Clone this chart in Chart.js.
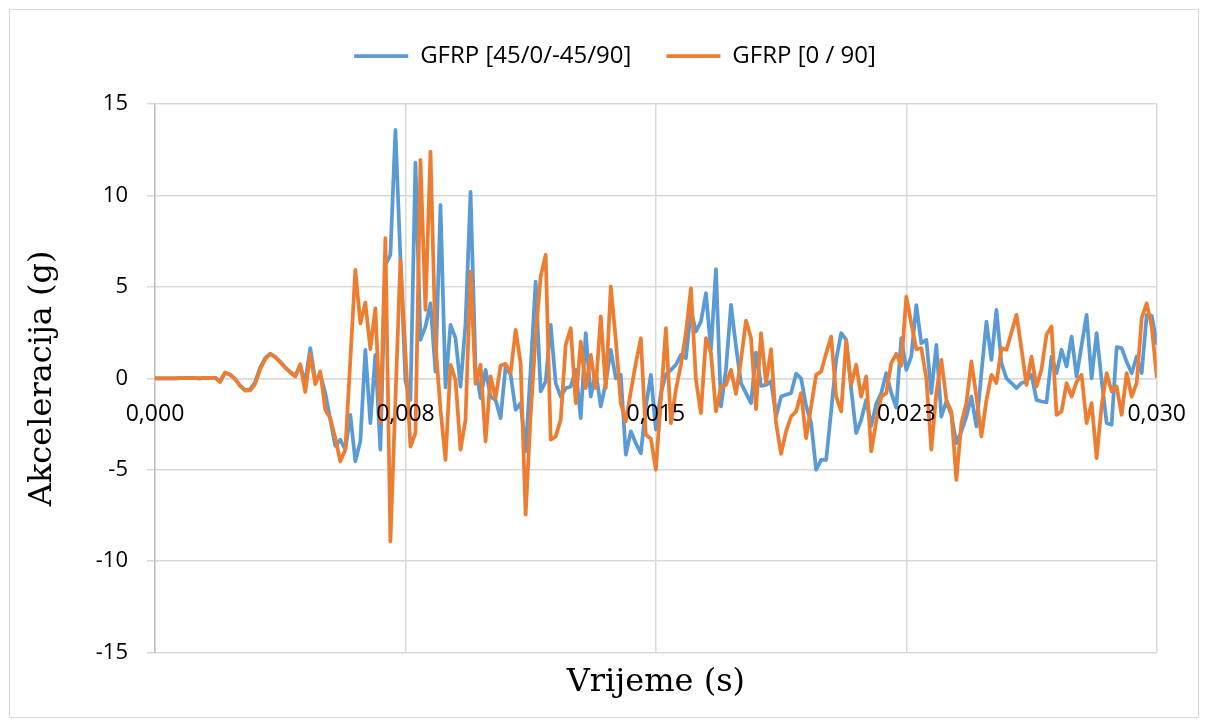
<!DOCTYPE html>
<html>
<head>
<meta charset="utf-8">
<script src="https://cdn.jsdelivr.net/npm/chart.js@4.4.1/dist/chart.umd.min.js"></script>
<style>
  html, body { margin: 0; padding: 0; background: #ffffff; }
  #wrap { width: 1208px; height: 727px; position: relative; }
</style>
</head>
<body>
<div id="wrap"><canvas id="accChart" width="1208" height="727"></canvas></div>
<script>
// Sampling interval of the accelerometer records (s)
const sampleStep = 0.00015;

const seriesNames = ['GFRP [45/0/-45/90]', 'GFRP [0 / 90]'];

// Acceleration (g), laminate [45/0/-45/90]
const accQuasiIso = [
  0, 0, 0, 0, 0, 0.01, 0.01, 0.02, 0.01, 0,
  0.02, 0.03, 0.03, -0.15, 0.3, 0.2, -0.05, -0.4, -0.64, -0.6,
  -0.2, 0.6, 1.1, 1.35, 1.18, 0.9, 0.6, 0.35, 0.15, 0.65,
  -0.2, 1.65, -0.1, 0.2, -0.81, -2.27, -3.7, -3.36, -3.9, -2.0,
  -4.54, -3.45, 1.56, -2.45, 1.28, -3.9, 6.2, 6.75, 13.58, 6.55,
  -0.15, -1.18, 11.8, 2.1, 2.83, 4.1, 0.37, 9.48, -0.5, 2.92,
  2.2, -0.45, 3.0, 10.2, 0.6, -1.08, 0.46, -1.0, -1.18, -2.18,
  0.64, 0.19, -1.72, -1.36, -4.0, 0.5, 5.29, -0.72, -0.17, 2.92,
  -0.26, -1.0, -0.54, -0.45, 0.46, -2.18, 2.47, -1.0, 0.37, -1.54,
  -0.26, 1.56, 0.0, 0.19, -4.18, -2.9, -3.55, -4.1, -1.54, 0.19,
  -2.8, -0.8, 0.2, 0.46, 0.74, 1.28, 1.1, 3.74, 2.56, 3.1,
  4.65, 1.56, 5.97, -1.54, 0.5, 4.01, 1.74, -0.26, -0.81, -1.36,
  1.41, -0.41, -0.36, -0.17, -2.09, -1.0, -0.9, -0.81, 0.25, 0.0,
  -1.5, -2.45, -5.0, -4.46, -4.46, -1.8, 1.01, 2.47, 2.1, -0.6,
  -3.0, -2.27, -1.18, -2.6, -1.4, -0.8, 0.28, -0.8, -1.6, 2.2,
  0.46, 1.2, 4.0, 1.92, 2.1, -0.81, 1.83, -2.09, -1.27, -2.0,
  -3.55, -2.9, -2.09, -1.0, -2.63, 0.3, 3.1, 1.01, 3.74, 0.83,
  0.0, -0.26, -0.54, -0.26, -0.17, 0.19, -1.18, -1.27, -1.32, 1.19,
  0.28, 1.56, 0.65, 2.28, 0.1, 1.8, 3.47, 0.0, 2.47, -0.1,
  -2.45, -2.54, 1.7, 1.65, 0.9, 0.28, 1.19, 0.28, 3.47, 3.41,
  1.92
];

// Acceleration (g), laminate [0 / 90]
const accCrossPly = [
  0, 0, 0, 0, 0, 0.01, 0.01, 0.02, 0.01, 0,
  0.02, 0.03, 0.03, -0.2, 0.32, 0.2, -0.05, -0.42, -0.68, -0.66,
  -0.3, 0.5, 1.05, 1.33, 1.15, 0.88, 0.58, 0.32, 0.1, 0.77,
  -0.75, 1.32, -0.32, 0.37, -1.72, -2.18, -3.27, -4.54, -3.9, 1.0,
  5.93, 3.0, 4.14, 1.6, 3.83, -2.4, 7.66, -8.92, -1.2, 6.48,
  1.4, -3.73, -3.0, 11.94, 3.74, 12.4, 1.9, -1.7, -4.46, 0.74,
  -0.08, -3.9, -2.27, 5.84, -0.3, 0.74, -3.45, 0.1, -1.08, 0.7,
  0.79, 0.28, 2.65, 0.83, -7.46, -2.0, 2.3, 5.56, 6.75, -3.36,
  -3.18, -2.27, 1.83, 2.74, -1.36, 2.01, -0.54, 1.28, -0.54, 3.38,
  -0.54, 5.02, 2.1, -1.36, -2.36, -0.72, 0.83, 2.19, -3.09, -3.3,
  -5.0, -1.2, 2.74, -2.45, -0.63, 0.74, 2.47, 4.92, -0.08, -1.9,
  2.2, 1.37, -1.81, -0.45, -0.36, 0.46, -0.85, 1.0, 3.16, 2.2,
  -1.69, 2.47, -0.26, 1.59, -2.45, -4.13, -2.9, -2.09, -1.81, -0.81,
  -3.27, -1.54, 0.19, 0.37, 1.37, 2.28, -1.0, -1.81, 2.06, -0.36,
  0.74, -1.0, 0.1, -4.0, -2.36, -1.0, -0.81, 0.83, 1.34, 0.7,
  4.47, 3.0, 1.59, 1.65, 0.0, -3.9, -0.8, 1.01, -1.18, -1.81,
  -5.56, -2.45, -1.36, 0.92, -1.0, -3.18, -1.2, 0.19, -0.26, 1.65,
  1.56, 2.5, 3.47, 1.6, -0.36, 1.19, -0.45, 0.5, 2.38, 2.83,
  -2.0, -1.81, -0.26, -1.0, -0.2, 0.19, -2.45, -1.36, -4.36, -1.5,
  0.28, -0.72, -0.45, -2.0, 0.28, -1.0, -0.26, 3.29, 4.1, 2.83,
  0.1
];

// Time axis ticks and their printed labels
const xTickValues = [0, 0.0075, 0.015, 0.0225, 0.03];
const xTickLabels = ['0,000', '0,008', '0,015', '0,023', '0,030'];

// Acceleration axis range and step
const yMin = -15;
const yMax = 15;
const yStep = 5;

const toPoints = (values) => values.map((v, i) => ({ x: +(i * sampleStep).toFixed(5), y: v }));

const gridGray = '#d9d9d9';
const lineWidth = 3.75;
const titleFont = { family: 'DejaVu Serif', size: 32, weight: 'normal' };

// White page with a thin frame around the whole chart
const chartFrame = {
  id: 'chartFrame',
  beforeDraw(chart) {
    const { ctx, width, height } = chart;
    ctx.save();
    ctx.fillStyle = '#ffffff';
    ctx.fillRect(0, 0, width, height);
    ctx.strokeStyle = gridGray;
    ctx.lineWidth = 1;
    ctx.strokeRect(9.5, 9.5, width - 19, height - 19);
    ctx.restore();
  }
};

const seriesStyle = (color, order) => ({
  borderColor: color,
  backgroundColor: color,
  pointBorderColor: color,
  pointBackgroundColor: color,
  borderWidth: lineWidth,
  pointBorderWidth: lineWidth,
  pointRadius: 0,
  pointHoverRadius: 0,
  tension: 0,
  fill: false,
  borderCapStyle: 'round',
  borderJoinStyle: 'round',
  order
});

new Chart(document.getElementById('accChart'), {
  type: 'line',
  data: {
    datasets: [
      Object.assign({ label: seriesNames[0], data: toPoints(accQuasiIso) }, seriesStyle('#5B9BD5', 1)),
      Object.assign({ label: seriesNames[1], data: toPoints(accCrossPly) }, seriesStyle('#ED7D31', 0))
    ]
  },
  options: {
    responsive: false,
    animation: false,
    devicePixelRatio: 1,
    events: [],
    parsing: false,
    layout: { padding: { left: 73, right: 51, top: 9, bottom: 25 } },
    plugins: {
      legend: {
        display: true,
        position: 'top',
        labels: {
          usePointStyle: true,
          pointStyle: 'line',
          pointStyleWidth: 54,
          padding: 35,
          color: '#000000',
          font: { family: 'Open Sans', size: 24 },
          sort: (a, b) => a.datasetIndex - b.datasetIndex
        }
      },
      title: {
        display: true,
        position: 'bottom',
        fullSize: false,
        text: 'Vrijeme (s)',
        color: '#000000',
        font: titleFont,
        padding: { top: 11, bottom: 0 }
      },
      tooltip: { enabled: false }
    },
    scales: {
      x: {
        type: 'linear',
        position: { y: 0 },
        min: 0,
        max: 0.03,
        afterBuildTicks: (scale) => { scale.ticks = xTickValues.map((v) => ({ value: v })); },
        grid: { color: gridGray, lineWidth: 1.5, drawTicks: false },
        border: { display: true, color: gridGray, width: 1.5 },
        ticks: {
          z: 1,
          autoSkip: false,
          maxRotation: 0,
          padding: 22,
          color: '#000000',
          font: { family: 'Open Sans', size: 23 },
          callback: (value, index) => xTickLabels[index]
        }
      },
      topGap: {
        type: 'linear',
        axis: 'x',
        position: 'top',
        display: true,
        grid: { display: false },
        border: { display: false },
        ticks: { display: false },
        afterFit: (scale) => { scale.height = 26; }
      },
      y: {
        type: 'linear',
        position: 'left',
        min: yMin,
        max: yMax,
        afterFit: (scale) => { scale.width = 82; },
        grid: { color: gridGray, lineWidth: 1.5, drawTicks: true, tickLength: 8 },
        border: { display: true, color: '#bfbfbf', width: 1.5 },
        ticks: {
          stepSize: yStep,
          padding: 19,
          color: '#000000',
          font: { family: 'Open Sans', size: 22 },
          callback: (value) => String(value)
        },
        title: {
          display: true,
          text: 'Akceleracija (g)',
          color: '#000000',
          font: titleFont,
          padding: { top: -50, bottom: 0 }
        }
      }
    }
  },
  plugins: [chartFrame]
});
</script>
</body>
</html>
